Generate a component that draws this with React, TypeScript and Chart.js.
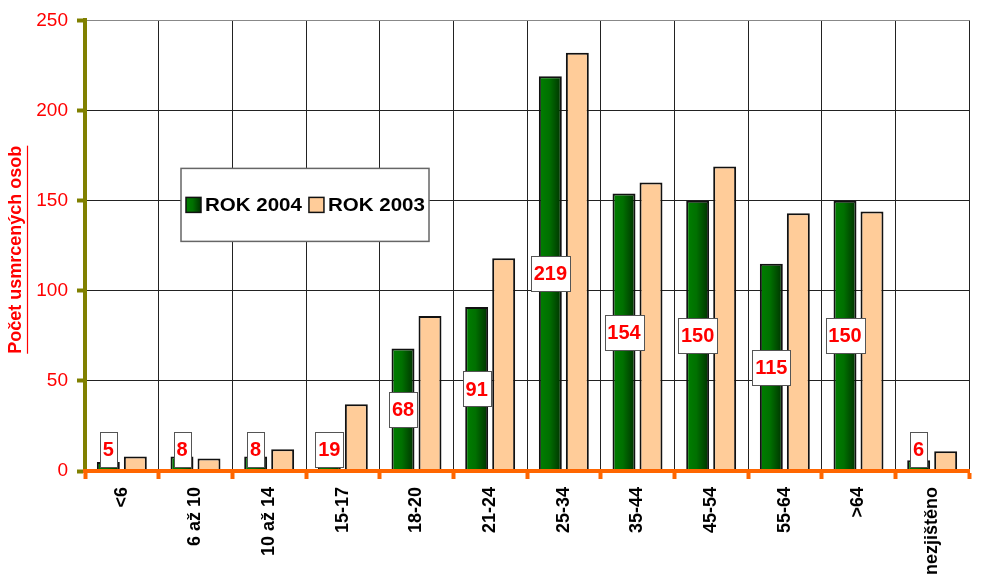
import React, { useEffect, useRef } from "react";
import { Chart, registerables } from "chart.js";

Chart.register(...registerables);

const categories = ["<6", "6 až 10", "10 až 14", "15-17", "18-20", "21-24", "25-34", "35-44", "45-54", "55-64", ">64", "nezjištěno"];
const rok2004 = [5, 8, 8, 19, 68, 91, 219, 154, 150, 115, 150, 6];
const rok2003 = [8, 7, 12, 37, 86, 118, 232, 160, 169, 143, 144, 11];
const seriesLabels = ["ROK 2004", "ROK 2003"];
const yTitle = "Počet usmrcených osob";
const yMin = 0;
const yMax = 250;
const yStep = 50;

const FONT = '"Liberation Sans", Arial, Helvetica, sans-serif';
const PEACH = "#FFCC99";

function greenGradient(ctx: CanvasRenderingContext2D, x0: number, x1: number) {
  const g = ctx.createLinearGradient(x0, 0, x1, 0);
  g.addColorStop(0, "#008000");
  g.addColorStop(0.45, "#007000");
  g.addColorStop(1, "#003000");
  return g;
}

const gradientPlugin = {
  id: "gradientBars",
  beforeDatasetsDraw(chart: any) {
    const ctx = chart.ctx;
    const meta = chart.getDatasetMeta(0);
    meta.data.forEach((el: any) => {
      const { x, width } = el.getProps(["x", "width"], true);
      el.options.backgroundColor = greenGradient(ctx, x - width / 2, x + width / 2);
    });
  },
};

const labelsPlugin = {
  id: "valueBoxes",
  afterDatasetsDraw(chart: any) {
    const ctx = chart.ctx;
    const meta = chart.getDatasetMeta(0);
    const yScale = chart.scales.y;
    const zero = yScale.getPixelForValue(0);
    ctx.save();
    ctx.font = `bold 20px ${FONT}`;
    ctx.textAlign = "center";
    ctx.textBaseline = "middle";
    meta.data.forEach((el: any, i: number) => {
      const { x, y } = el.getProps(["x", "y"], true);
      const text = String(rok2004[i]);
      const tw = ctx.measureText(text).width;
      const w = Math.round(tw + 6);
      const h = 35;
      let cy = (y + zero) / 2;
      cy = Math.min(cy, zero - 22);
      const bx = Math.round(x - w / 2) + 0.5;
      const by = Math.round(cy - h / 2) + 0.5;
      ctx.fillStyle = "#ffffff";
      ctx.fillRect(bx, by, w, h);
      ctx.strokeStyle = "#555555";
      ctx.lineWidth = 1;
      ctx.strokeRect(bx, by, w, h);
      ctx.fillStyle = "#FF0000";
      ctx.fillText(text, x, cy + 1);
    });
    ctx.restore();
  },
};

const legendPlugin = {
  id: "boxLegend",
  afterDraw(chart: any) {
    const ctx = chart.ctx;
    const a = chart.chartArea;
    const left = a.left + 96;
    const top = a.top + 148;
    const w = 248;
    const h = 73;
    ctx.save();
    ctx.fillStyle = "#ffffff";
    ctx.fillRect(left, top, w, h);
    ctx.strokeStyle = "#666666";
    ctx.lineWidth = 1.5;
    ctx.strokeRect(left, top, w, h);
    const cy = top + h / 2;
    ctx.font = `bold 19px ${FONT}`;
    ctx.textBaseline = "middle";
    ctx.textAlign = "left";
    const sx = 1.08;
    let x = left + 5;
    seriesLabels.forEach((lab, i) => {
      const sq = 15;
      ctx.fillStyle = i === 0 ? greenGradient(ctx, x, x + sq) : PEACH;
      ctx.fillRect(x, cy - sq / 2, sq, sq);
      ctx.strokeStyle = "#111";
      ctx.lineWidth = 1.5;
      ctx.strokeRect(x, cy - sq / 2, sq, sq);
      x += sq + 4;
      ctx.fillStyle = "#000";
      ctx.save();
      ctx.translate(x, cy + 1);
      ctx.scale(sx, 1);
      ctx.fillText(lab, 0, 0);
      ctx.restore();
      x += ctx.measureText(lab).width * sx + 7;
    });
    ctx.restore();
  },
};

const titlePlugin = {
  id: "yTitle",
  afterDraw(chart: any) {
    const ctx = chart.ctx;
    const a = chart.chartArea;
    ctx.save();
    ctx.translate(16.5, (a.top + a.bottom) / 2 + 4);
    ctx.rotate(-Math.PI / 2);
    ctx.font = `bold 18px ${FONT}`;
    ctx.fillStyle = "#FF0000";
    ctx.textAlign = "center";
    ctx.textBaseline = "middle";
    ctx.fillText(yTitle, 0, 0);
    const tw = ctx.measureText(yTitle).width;
    ctx.strokeStyle = "#FF0000";
    ctx.lineWidth = 1.2;
    ctx.beginPath();
    ctx.moveTo(-tw / 2, 11);
    ctx.lineTo(tw / 2, 11);
    ctx.stroke();
    ctx.restore();
  },
};

export default function App() {
  const ref = useRef<HTMLCanvasElement>(null);

  useEffect(() => {
    if (!ref.current) return;
    const chart = new Chart(ref.current, {
      type: "bar",
      data: {
        labels: categories,
        datasets: [
          {
            label: seriesLabels[0],
            data: rok2004,
            backgroundColor: () => "#007000",
            borderColor: "#111111",
            borderWidth: 2,
            categoryPercentage: 0.733,
            barPercentage: 0.85,
          },
          {
            label: seriesLabels[1],
            data: rok2003,
            backgroundColor: PEACH,
            borderColor: "#111111",
            borderWidth: 2,
            categoryPercentage: 0.733,
            barPercentage: 0.85,
          },
        ],
      },
      options: {
        responsive: false,
        animation: false,
        layout: { padding: { top: 20, right: 12, bottom: 0, left: 0 } },
        plugins: {
          legend: { display: false },
          tooltip: { enabled: false },
          title: { display: false },
        },
        scales: {
          x: {
            grid: {
              color: "#222222",
              lineWidth: 1,
              tickColor: "#FF6600",
              tickWidth: 4,
              tickLength: 8,
              offset: true,
            },
            border: { color: "#FF6600", width: 4, z: 1 },
            ticks: {
              color: "#000000",
              font: { family: FONT, size: 18, weight: "bold" },
              maxRotation: 90,
              minRotation: 90,
              autoSkip: false,
              padding: 8,
            },
            afterFit(scale: any) {
              scale.height = 112;
            },
          },
          y: {
            min: yMin,
            max: yMax,
            grid: {
              color: (c: any) => (c.tick && c.tick.value === yMax ? "#888888" : "#222222"),
              lineWidth: 1,
              tickColor: "#808000",
              tickWidth: 4,
              tickLength: 8,
            },
            border: { color: "#808000", width: 4 },
            ticks: {
              stepSize: yStep,
              color: "#FF0000",
              font: { family: FONT, size: 19 },
              padding: 9,
            },
            afterFit(scale: any) {
              scale.width = 85;
            },
          },
        },
      },
      plugins: [gradientPlugin, labelsPlugin, legendPlugin, titlePlugin],
    } as any);
    return () => chart.destroy();
  }, []);

  return (
    <div style={{ position: "fixed", left: 0, top: 0, width: 981, height: 583, background: "#fff" }}>
      <canvas ref={ref} width={981} height={583} style={{ display: "block" }} />
    </div>
  );
}
